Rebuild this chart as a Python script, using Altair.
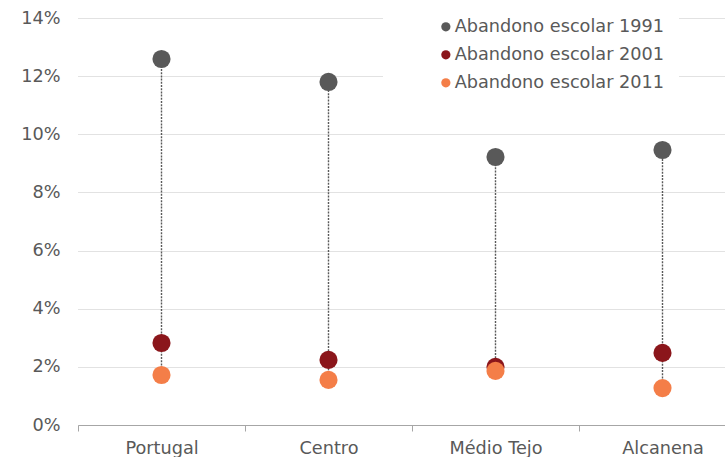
import altair as alt
import pandas as pd

categories = ["Portugal", "Centro", "Médio Tejo", "Alcanena"]
series = ["Abandono escolar 1991", "Abandono escolar 2001", "Abandono escolar 2011"]
v1991 = [0.1259, 0.1180, 0.0922, 0.0946]
v2001 = [0.0282, 0.0224, 0.0200, 0.0248]
v2011 = [0.0172, 0.0155, 0.0186, 0.0127]
colors = ["#595959", "#8B161B", "#F47E48"]

rows = []
for s, vals in zip(series, [v1991, v2001, v2011]):
    for c, v in zip(categories, vals):
        rows.append({"cat": c, "serie": s, "value": v})
df = pd.DataFrame(rows)

FS = 17.7

x_enc = alt.X(
    "cat:N",
    sort=categories,
    title=None,
    scale=alt.Scale(range=[0, 668], paddingInner=0, paddingOuter=0),
    axis=alt.Axis(
        labelAngle=0, tickBand="extent", domainColor="#a6a6a6", tickColor="#a6a6a6",
        tickSize=6, labelPadding=8, labelFontSize=FS, labelColor="#595959",
        labelFont="DejaVu Sans", grid=False, labelLimit=0,
    ),
)
y_scale = alt.Scale(domain=[0, 0.14], nice=False)

rules = alt.Chart(df).mark_rule(color="#595959", strokeDash=[2, 1.2], strokeWidth=1.4).encode(
    x=x_enc,
    y=alt.Y("min(value):Q", scale=y_scale),
    y2="max(value):Q",
)

points = alt.Chart(df).mark_circle(size=330, opacity=1).encode(
    x=x_enc,
    y=alt.Y(
        "value:Q",
        scale=y_scale,
        title=None,
        axis=alt.Axis(
            values=[0, 0.02, 0.04, 0.06, 0.08, 0.1, 0.12, 0.14], format=".0%",
            domain=False, ticks=False, labelPadding=18, labelFontSize=FS,
            labelColor="#595959", labelFont="DejaVu Sans",
            gridColor="#c4c4c4", gridDash=[1, 1], gridWidth=1,
        ),
    ),
    color=alt.Color(
        "serie:N",
        scale=alt.Scale(domain=series, range=colors),
        legend=alt.Legend(
            title="XXX", titleColor="white", titleOrient="left", titleFontSize=FS,
            titlePadding=3, titleFont="DejaVu Sans", titleFontWeight="normal",
            orient="none", legendX=305, legendY=-14,
            fillColor="white", padding=14,
            symbolType="circle", symbolSize=85, labelFontSize=FS,
            labelColor="#595959", labelFont="DejaVu Sans", rowPadding=9,
            labelOffset=0, labelLimit=0,
            labelExpr="datum.label + '\u00a0\u00a0\u00a0\u00a0\u00a0\u00a0\u00a0\u00a0'",
        ),
    ),
)

chart = (
    alt.layer(rules, points)
    .properties(
        width=647, height=407,
        padding={"left": 78, "top": 18, "right": 0, "bottom": 32},
        autosize=alt.AutoSizeParams(type="none"),
    )
    .configure_view(stroke=None)
)

chart.save("out.html", embed_options={"renderer": "svg", "actions": False})
